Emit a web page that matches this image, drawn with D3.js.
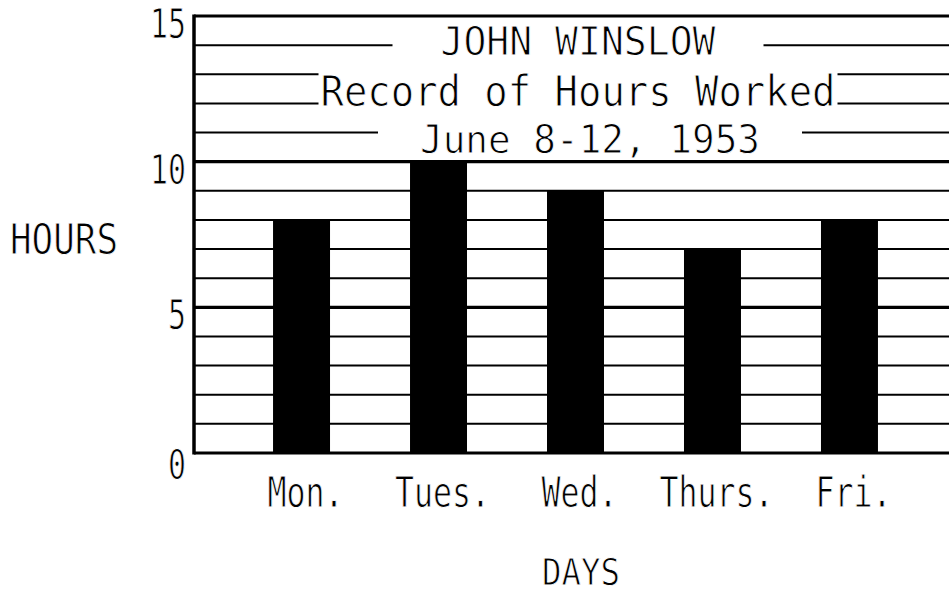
<!DOCTYPE html>
<html>
<head>
<meta charset="utf-8">
<script src="https://cdn.jsdelivr.net/npm/d3@7"></script>
<style>
  body { margin: 0; background: #fff; }
  text { font-family: "DejaVu Sans Mono", monospace; fill: #000; stroke: #fff; stroke-width: 0.9px; }
</style>
</head>
<body>
<div id="chart"></div>
<script>
// ---------------- data ----------------
const days = ["Mon.", "Tues.", "Wed.", "Thurs.", "Fri."];
const hours = [8, 10, 9, 7, 8];
const yTicks = [0, 5, 10, 15];
const titleLines = ["JOHN WINSLOW", "Record of Hours Worked", "June 8-12, 1953"];

const w = 949, h = 595;
const x0 = 194, yTop = 16, yBottom = 453;

const svg = d3.select("#chart")
  .append("svg")
    .attr("width", w)
    .attr("height", h);

const x = d3.scaleBand()
  .domain(days)
  .range([x0, 957])
  .paddingInner(0.584)
  .paddingOuter(0.577);

const y = d3.scaleLinear()
  .domain([0, 15])
  .range([yBottom, yTop]);

// ---------------- grid lines (every hour) ----------------
svg.append("g")
  .selectAll("line")
  .data(d3.range(0, 16))
  .enter()
  .append("line")
    .attr("x1", x0)
    .attr("x2", w)
    .attr("y1", d => y(d))
    .attr("y2", d => y(d))
    .attr("stroke", "#000")
    .attr("stroke-width", d => (d % 5 == 0) ? 3.2 : 2);

// ---------------- bars ----------------
svg.append("g")
  .selectAll("rect")
  .data(days)
  .enter()
  .append("rect")
    .attr("x", d => x(d))
    .attr("width", x.bandwidth())
    .attr("y", (d, i) => y(hours[i]))
    .attr("height", (d, i) => y(0) - y(hours[i]))
    .attr("fill", "#000");

// ---------------- title with knocked-out grid lines ----------------
const titleBase = [55, 106, 153];
const titleCap = [28, 31, 28];
const titleLen = [275, 515, 340];
const titlePad = [48, 2, 42];
const titleX = [578, 578, 590];

const gTitle = svg.append("g");
titleLines.forEach((t, i) => {
  const fs = titleCap[i] / 0.73;
  const x1 = titleX[i] - titleLen[i] / 2, x2 = titleX[i] + titleLen[i] / 2;
  // grid lines crossing this text line
  d3.range(1, 15)
    .filter(v => y(v) > titleBase[i] - titleCap[i] - 3 && y(v) < titleBase[i] + 3)
    .forEach(v => {
      gTitle.append("rect")
        .attr("x", x1 - titlePad[i])
        .attr("width", x2 - x1 + 2 * titlePad[i])
        .attr("y", y(v) - 3)
        .attr("height", 6)
        .attr("fill", "#fff");
    });
  gTitle.append("text")
    .attr("x", titleX[i])
    .attr("y", titleBase[i])
    .attr("text-anchor", "middle")
    .attr("font-size", fs)
    .attr("textLength", titleLen[i])
    .attr("lengthAdjust", "spacingAndGlyphs")
    .text(t);
});

// ---------------- y axis ----------------
svg.append("line")
  .attr("x1", x0).attr("x2", x0)
  .attr("y1", y(15) - 1.5).attr("y2", y(0) + 1.5)
  .attr("stroke", "#000")
  .attr("stroke-width", 3.5);

svg.append("g")
  .selectAll("text")
  .data(yTicks)
  .enter()
  .append("text")
    .attr("x", 186)
    .attr("y", d => y(d) + (d == 0 ? 26 : 22))
    .attr("text-anchor", "end")
    .attr("font-size", 40)
    .attr("textLength", d => String(d).length * 18)
    .attr("lengthAdjust", "spacingAndGlyphs")
    .text(d => d);

// ---------------- x labels ----------------
svg.append("g")
  .selectAll("text")
  .data(days)
  .enter()
  .append("text")
    .attr("x", d => x(d) + x.bandwidth() / 2 + 4)
    .attr("y", 507)
    .attr("text-anchor", "middle")
    .attr("font-size", 42)
    .attr("textLength", d => d.length * 19)
    .attr("lengthAdjust", "spacingAndGlyphs")
    .text(d => d);

// ---------------- axis titles ----------------
svg.append("text")
  .attr("x", 10)
  .attr("y", 254)
  .attr("font-size", 42)
  .attr("textLength", 108)
  .attr("lengthAdjust", "spacingAndGlyphs")
  .text("HOURS");

svg.append("text")
  .attr("x", 542)
  .attr("y", 585)
  .attr("font-size", 37)
  .attr("textLength", 78)
  .attr("lengthAdjust", "spacingAndGlyphs")
  .text("DAYS");
</script>
</body>
</html>
